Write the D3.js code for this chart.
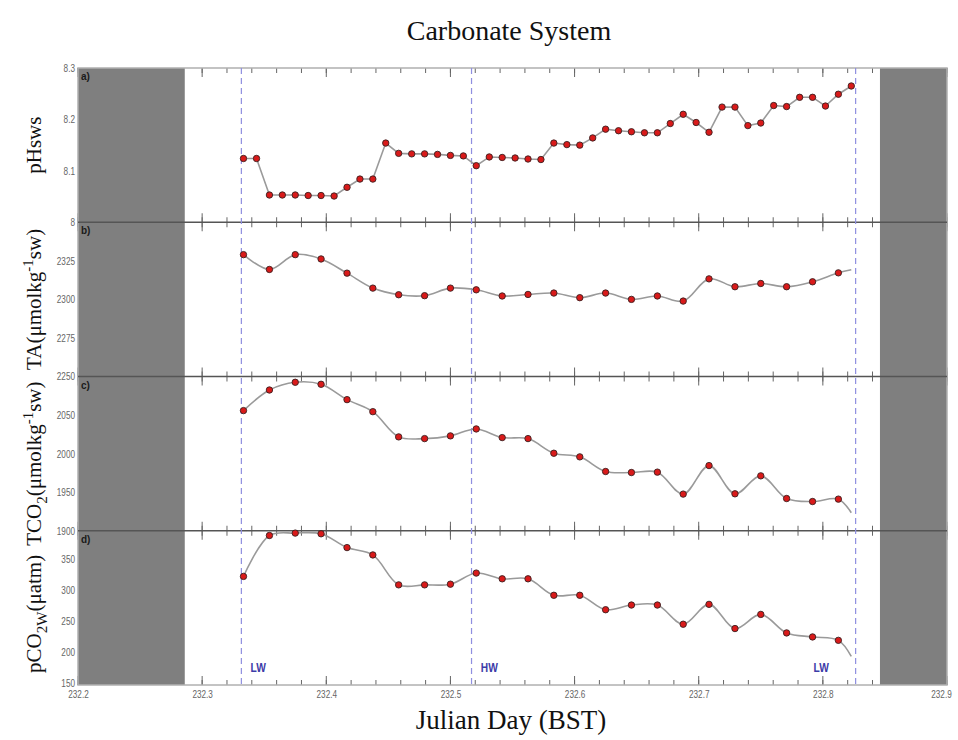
<!DOCTYPE html>
<html>
<head>
<meta charset="utf-8">
<script src="https://cdn.jsdelivr.net/npm/d3@7"></script>
<style>
  html, body { margin: 0; padding: 0; background: #fff; }
  svg { display: block; }
</style>
</head>
<body>
<svg id="chart" width="958" height="740"></svg>
<script>
// Sampling times (Julian day, BST)
const pHTimes = [232.3333, 232.3438, 232.3542, 232.3646, 232.3750, 232.3854, 232.3958, 232.4063,
  232.4167, 232.4271, 232.4375, 232.4479, 232.4583, 232.4688, 232.4792, 232.4896,
  232.5000, 232.5104, 232.5208, 232.5313, 232.5417, 232.5521, 232.5625, 232.5729,
  232.5833, 232.5938, 232.6042, 232.6146, 232.6250, 232.6354, 232.6458, 232.6563,
  232.6667, 232.6771, 232.6875, 232.6979, 232.7083, 232.7188, 232.7292, 232.7396,
  232.7500, 232.7604, 232.7708, 232.7813, 232.7917, 232.8021, 232.8125, 232.8229];

// Half-hourly samples; the final entry closes the fitted curve and has no marker
const sampleTimes = [232.3333, 232.3542, 232.3750, 232.3958, 232.4167, 232.4375, 232.4583, 232.4792,
  232.5000, 232.5208, 232.5417, 232.5625, 232.5833, 232.6042, 232.6250, 232.6458,
  232.6667, 232.6875, 232.7083, 232.7292, 232.7500, 232.7708, 232.7917, 232.8125, 232.8229];
const markedSamples = 24;

// Series values
const pHsws = [8.124, 8.124, 8.053, 8.053, 8.053, 8.052, 8.052, 8.051, 8.068, 8.084, 8.084, 8.154,
  8.134, 8.133, 8.133, 8.132, 8.130, 8.129, 8.110, 8.127, 8.126, 8.125, 8.123, 8.122,
  8.154, 8.151, 8.150, 8.164, 8.181, 8.178, 8.176, 8.174, 8.174, 8.192, 8.210, 8.194,
  8.175, 8.224, 8.224, 8.188, 8.193, 8.227, 8.225, 8.243, 8.243, 8.226, 8.249, 8.265];
const totalAlkalinity = [2329.0, 2319.4, 2329.0, 2326.2, 2317.0, 2307.3, 2303.0, 2302.4, 2307.3, 2306.2,
  2302.2, 2303.2, 2304.1, 2301.1, 2304.1, 2300.0, 2302.2, 2298.9, 2313.3, 2308.2,
  2310.3, 2308.2, 2311.4, 2317.2, 2319.2];
const totalCO2 = [2055.8, 2082.5, 2092.5, 2089.9, 2070.0, 2054.4, 2021.7, 2019.5, 2023.0, 2032.0,
  2020.8, 2019.5, 2000.5, 1995.8, 1976.8, 1975.5, 1976.0, 1947.5, 1984.5, 1947.9,
  1971.2, 1941.8, 1937.9, 1941.0, 1923.3];
const pCO2w = [326.0, 392.3, 396.2, 395.1, 372.7, 360.8, 312.3, 312.3, 313.4, 331.4,
  322.1, 322.1, 295.4, 295.4, 272.0, 279.6, 279.6, 248.5, 280.7, 241.5,
  264.4, 234.4, 227.9, 222.4, 196.3];

// Axis tick labels
const xTickLabels = ["232.2", "232.3", "232.4", "232.5", "232.6", "232.7", "232.8", "232.9"];
const pHTicks = [8, 8.1, 8.2, 8.3];
const taTicks = [2250, 2275, 2300, 2325];
const tco2Ticks = [1900, 1950, 2000, 2050];
const pco2Ticks = [150, 200, 250, 300, 350];

// Tide states
const tideTimes = [232.3316, 232.5170, 232.8264];
const tideLabels = ["LW", "HW", "LW"];
const tideLabelTimes = [232.3452, 232.5313, 232.7986];

// Periods outside the sampling window
const shadedPeriods = [[232.2, 232.286], [232.846, 232.9]];

const svg = d3.select("#chart");
const plotLeft = 78, plotRight = 947, plotTop = 68, plotBottom = 685;
const panelH = (plotBottom - plotTop) / 4;

const x = d3.scaleLinear().domain([232.2, 232.9]).range([plotLeft, plotRight]);

const panels = [
  { tag: "a)", domain: [8, 8.3], ticks: pHTicks, times: pHTimes, values: pHsws, smooth: false,
    fmt: d => d === 8 ? "8" : d3.format(".1f")(d) },
  { tag: "b)", domain: [2250, 2350], ticks: taTicks, times: sampleTimes, values: totalAlkalinity, smooth: true,
    fmt: d3.format("d") },
  { tag: "c)", domain: [1900, 2100], ticks: tco2Ticks, times: sampleTimes, values: totalCO2, smooth: true,
    fmt: d3.format("d") },
  { tag: "d)", domain: [150, 400], ticks: pco2Ticks, times: sampleTimes, values: pCO2w, smooth: true,
    fmt: d3.format("d") }
];

const font = "'Liberation Sans', Arial, sans-serif";
const serif = "'Liberation Serif', 'Times New Roman', serif";

// squeeze tick text horizontally to a narrow face
function narrow(sel, k) {
  sel.each(function () {
    const w = this.getComputedTextLength();
    d3.select(this).attr("textLength", w * k).attr("lengthAdjust", "spacingAndGlyphs");
  });
}

// Tick positions every 0.02 day, longer at every 0.1 day
const minorTicks = d3.range(0, 36).map(i => 232.2 + i * 0.02);
const majorTicks = xTickLabels.map(Number);

panels.forEach((p, i) => {
  const y0 = plotTop + i * panelH, y1 = y0 + panelH;
  p.y = d3.scaleLinear().domain(p.domain).range([y1, y0]);
  const g = svg.append("g");

  // top and bottom inward ticks
  [[y0, 1], [y1, -1]].forEach(([yy, dir]) => {
    g.append("g").selectAll("line").data(minorTicks).join("line")
      .attr("x1", d => x(d)).attr("x2", d => x(d))
      .attr("y1", yy).attr("y2", yy + dir * 5)
      .attr("stroke", "#666").attr("stroke-width", 1);
    g.append("g").selectAll("line").data(majorTicks).join("line")
      .attr("x1", d => x(d)).attr("x2", d => x(d))
      .attr("y1", yy).attr("y2", yy + dir * 9)
      .attr("stroke", "#666").attr("stroke-width", 1);
  });
});

// shaded periods over all panels
svg.append("g").selectAll("rect").data(shadedPeriods).join("rect")
  .attr("x", d => x(d[0])).attr("width", d => x(d[1]) - x(d[0]))
  .attr("y", plotTop).attr("height", plotBottom - plotTop)
  .attr("fill", "#7f7f7f");

// outer frame
svg.append("rect").attr("x", plotLeft).attr("y", plotTop)
  .attr("width", plotRight - plotLeft).attr("height", plotBottom - plotTop)
  .attr("fill", "none").attr("stroke", "#b0b0b0").attr("stroke-width", 1.5);

// panel separators
svg.append("g").selectAll("line").data([1, 2, 3]).join("line")
  .attr("x1", plotLeft).attr("x2", plotRight)
  .attr("y1", d => plotTop + d * panelH).attr("y2", d => plotTop + d * panelH)
  .attr("stroke", "#555").attr("stroke-width", 1.5);

// tide lines
svg.append("g").selectAll("line").data(tideTimes).join("line")
  .attr("x1", d => x(d)).attr("x2", d => x(d))
  .attr("y1", plotTop).attr("y2", plotBottom)
  .attr("stroke", "#8f8fe0").attr("stroke-width", 1.2)
  .attr("stroke-dasharray", "6,4");

svg.append("g").selectAll("text").data(tideLabels).join("text")
  .attr("x", (d, i) => x(tideLabelTimes[i])).attr("y", 672)
  .attr("text-anchor", "middle")
  .attr("font-family", font).attr("font-weight", "bold").attr("font-size", 12)
  .attr("fill", "#3c3ca8")
  .text(d => d)
  .call(narrow, 0.85);

panels.forEach((p, i) => {
  const y0 = plotTop + i * panelH;
  const g = svg.append("g");

  // left axis labels
  const axis = d3.axisLeft(p.y).tickValues(p.ticks).tickSize(0).tickPadding(3).tickFormat(p.fmt);
  const ax = g.append("g").attr("transform", `translate(${plotLeft},0)`).call(axis);
  ax.select(".domain").remove();
  ax.selectAll("text").attr("font-family", font).attr("font-size", 10.5).attr("fill", "#666")
    .attr("dy", i === 3 ? "0.1em" : "0.32em")
    .call(narrow, 0.78);

  // panel tag
  g.append("text").attr("x", 81).attr("y", y0 + 12)
    .attr("font-family", font).attr("font-weight", "bold")
    .attr("font-size", 10).attr("fill", "#1a1a1a").text(p.tag);

  const pts = p.times.map((t, k) => [t, p.values[k]]);
  const line = d3.line().x(d => x(d[0])).y(d => p.y(d[1]))
    .curve(p.smooth ? d3.curveCatmullRom.alpha(0.5) : d3.curveLinear);
  g.append("path").datum(pts).attr("d", line)
    .attr("fill", "none").attr("stroke", "#9a9a9a").attr("stroke-width", 1.6);

  const marked = p.smooth ? pts.slice(0, markedSamples) : pts;
  g.append("g").selectAll("circle").data(marked).join("circle")
    .attr("cx", d => x(d[0])).attr("cy", d => p.y(d[1])).attr("r", 3.2)
    .attr("fill", "#d91a1a").attr("stroke", "#3a2020").attr("stroke-width", 0.9);
});

// x axis labels
const xAxis = d3.axisBottom(x).tickValues(majorTicks).tickSize(0).tickPadding(6)
  .tickFormat((d, i) => xTickLabels[i]);
const xa = svg.append("g").attr("transform", `translate(0,${plotBottom})`).call(xAxis);
xa.select(".domain").remove();
xa.selectAll("text").attr("font-family", font).attr("font-size", 10.5).attr("fill", "#666")
  .call(narrow, 0.78);
// keep the last label inside the page edge
xa.selectAll("text").filter((d, i) => i === xTickLabels.length - 1).attr("x", -6);

// titles
svg.append("text").attr("x", 509).attr("y", 40).attr("text-anchor", "middle")
  .attr("font-family", serif).attr("font-size", 28).attr("fill", "#111")
  .text("Carbonate System");
svg.append("text").attr("x", 511).attr("y", 729).attr("text-anchor", "middle")
  .attr("font-family", serif).attr("font-size", 27).attr("fill", "#111")
  .text("Julian Day (BST)");

// y-axis titles
const yTitles = [
  { cy: plotTop + panelH * 0.5, parts: [["pHsws", 0]] },
  { cy: plotTop + panelH * 1.5, parts: [["TA(μmolkg", 0], ["-1", -8], ["sw)", 8]] },
  { cy: plotTop + panelH * 2.5 + 10, parts: [["TCO", 0], ["2", 6], ["(μmolkg", -6], ["-1", -8], ["sw)", 8]] },
  { cy: plotTop + panelH * 3.5 + 6, parts: [["pCO", 0], ["2W", 6], ["(μatm)", -6]] }
];
yTitles.forEach(t => {
  const txt = svg.append("text")
    .attr("transform", `translate(41,${t.cy}) rotate(-90)`)
    .attr("text-anchor", "middle")
    .attr("font-family", serif).attr("font-size", 21).attr("fill", "#111");
  t.parts.forEach(([s, dy]) => {
    const small = (s === "-1" || s === "2" || s === "2W");
    txt.append("tspan").attr("dy", dy).attr("font-size", small ? 15 : 21).text(s);
  });
});
</script>
</body>
</html>
